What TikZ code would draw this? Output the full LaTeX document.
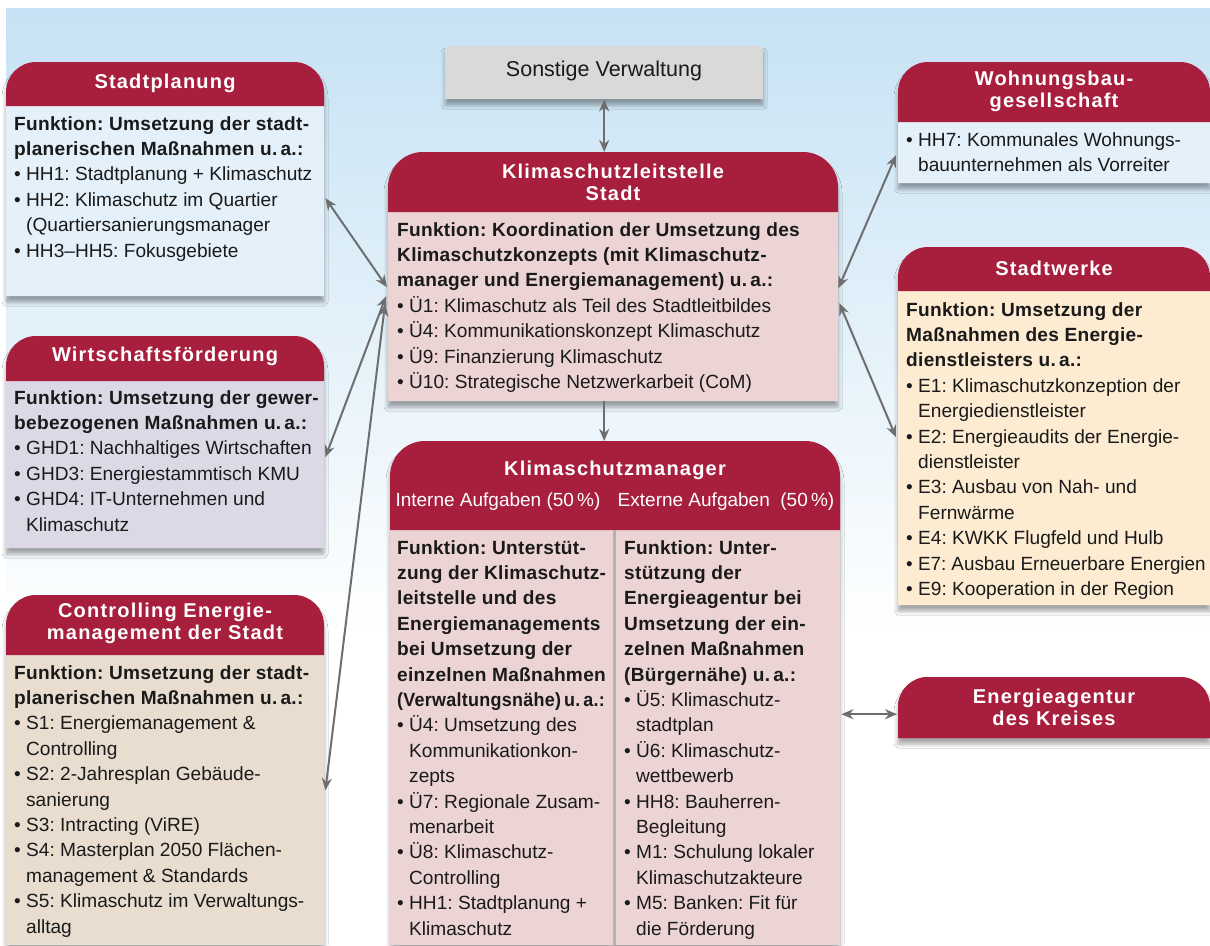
\documentclass[tikz,border=0pt]{standalone}
\usepackage{fontspec}
\usepackage{graphicx}
\setmainfont{Liberation Sans}[BoldFeatures={LetterSpace=1.5}]
\newfontfamily\hdfont{Liberation Sans}[LetterSpace=6]
\frenchspacing
\usetikzlibrary{arrows.meta,shadows.blur,calc}
\definecolor{hred}{HTML}{A81F3D}
\definecolor{ink}{HTML}{1A1A1A}
\definecolor{agray}{HTML}{6E6E6E}
\definecolor{bgblue}{HTML}{C6E2F4}
\definecolor{cblue}{HTML}{E4F1FA}
\definecolor{clila}{HTML}{DDD8E6}
\definecolor{cbeige}{HTML}{E9DDD0}
\definecolor{cpink}{HTML}{ECD4D5}
\definecolor{ccream}{HTML}{FDEBD2}
\definecolor{cgray}{HTML}{D9D9D9}
\newcommand\bi{\makebox[12pt][l]{\textbullet}}
\newcommand\ci{\hspace*{12pt}}
\tikzset{
  shd/.style={blur shadow={shadow xshift=0pt,shadow yshift=-6pt,shadow blur radius=4pt,shadow opacity=35}},
  hd/.style={font=\hdfont\bfseries\fontsize{20}{22}\selectfont, text=white, align=center, inner sep=0},
  txt/.style={font=\fontsize{19.1}{25.4}\selectfont, text=ink, align=left, inner sep=0, anchor=north west},
  conn/.style={draw=agray, line width=2pt, {Stealth[length=12pt,width=10pt]}-{Stealth[length=12pt,width=10pt]}},
  conn1/.style={draw=agray, line width=2pt, -{Stealth[length=12pt,width=10pt]}},
}
\newcommand\orgbox[8]{%
  \path[fill=#7, shd]
    (#2,#6) -- (#2,#3+#8) arc[start angle=180,end angle=270,radius=#8] -- (#5-#8,#3)
    arc[start angle=270,end angle=360,radius=#8] -- (#5,#6) -- cycle;
  \path[fill=hred]
    (#2,#4) -- (#2,#3+#8) arc[start angle=180,end angle=270,radius=#8] -- (#5-#8,#3)
    arc[start angle=270,end angle=360,radius=#8] -- (#5,#4) -- cycle;
  \node[inner sep=0, minimum width={#5pt-#2pt}, minimum height={#6pt-#3pt}, anchor=north west] (#1) at (#2,#3) {};
}
\begin{document}
\begin{tikzpicture}[x=1pt,y=-1pt]
\useasboundingbox (0,0) rectangle (1210,945);
\fill[white] (0,0) rectangle (1210,945);
\shade[top color=bgblue, bottom color=white] (6,8) rectangle (1210,640);

% Sonstige Verwaltung
\node[fill=cgray, minimum width=318pt, minimum height=53pt, inner sep=0, anchor=north west, shd] (sv) at (445,46) {};
\node[font=\fontsize{21.5}{24}\selectfont, text=ink] (svt) at (604,71) {Sonstige Verwaltung};

% Stadtplanung
\orgbox{sp}{6}{62}{106}{324}{296}{cblue}{30}
\node[hd] (sph) at (165,83) {Stadtplanung};
\node[txt] (spt) at (14,116) {\textbf{Funktion: Umsetzung der stadt-}\\
\textbf{planerischen Maßnahmen u.\,a.:}\\
\bi HH1: Stadtplanung + Klimaschutz\\
\bi HH2: Klimaschutz im Quartier\\
\ci(Quartiersanierungsmanager\\
\bi HH3–HH5: Fokusgebiete};

% Wirtschaftsfoerderung
\orgbox{wf}{6}{336}{381}{324}{548}{clila}{30}
\node[hd] (wfh) at (165,356) {Wirtschaftsförderung};
\node[txt] (wft) at (14,390) {\textbf{Funktion: Umsetzung der gewer-}\\
\textbf{bebezogenen Maßnahmen u.\,a.:}\\
\bi GHD1: Nachhaltiges Wirtschaften\\
\bi GHD3: Energiestammtisch KMU\\
\bi GHD4: IT-Unternehmen und\\
\ci Klimaschutz};

% Controlling
\orgbox{cm}{6}{595}{655}{324}{945}{cbeige}{30}
\node[hd] (cmh) at (165,623) {Controlling Energie-\\management der Stadt};
\node[txt] (cmt) at (14,665) {\textbf{Funktion: Umsetzung der stadt-}\\
\textbf{planerischen Maßnahmen u.\,a.:}\\
\bi S1: Energiemanagement \&\\
\ci Controlling\\
\bi S2: 2-Jahresplan Gebäude-\\
\ci sanierung\\
\bi S3: Intracting (ViRE)\\
\bi S4: Masterplan 2050 Flächen-\\
\ci management \& Standards\\
\bi S5: Klimaschutz im Verwaltungs-\\
\ci alltag};

% Leitstelle
\orgbox{ls}{388}{152}{212}{838}{401}{cpink}{35}
\node[hd] (lsh) at (613,182) {Klimaschutzleitstelle\\Stadt};
\node[txt] (lst) at (397,222) {\textbf{Funktion: Koordination der Umsetzung des}\\
\textbf{Klimaschutzkonzepts (mit Klimaschutz-}\\
\textbf{manager und Energiemanagement) u.\,a.:}\\
\bi Ü1: Klimaschutz als Teil des Stadtleitbildes\\
\bi Ü4: Kommunikationskonzept Klimaschutz\\
\bi Ü9: Finanzierung Klimaschutz\\
\bi Ü10: Strategische Netzwerkarbeit (CoM)};

% Klimaschutzmanager
\orgbox{km}{390}{441}{530}{840}{945}{cpink}{35}
\fill[black!30] (613,530) rectangle (616,945);
\node[hd] (kmh) at (615,470) {Klimaschutzmanager};
\node[font=\fontsize{19}{22}\selectfont, text=white] (kmi) at (498,502) {Interne Aufgaben (50\,\%)};
\node[font=\fontsize{19}{22}\selectfont, text=white] (kme) at (726,502) {Externe Aufgaben\ \ (50\,\%)};
\node[txt] (kmlt) at (397,540) {\textbf{Funktion: Unterstüt-}\\
\textbf{zung der Klimaschutz-}\\
\textbf{leitstelle und des}\\
\textbf{Energiemanagements}\\
\textbf{bei Umsetzung der}\\
\textbf{einzelnen Maßnahmen}\\
\scalebox{0.94}[1]{\textbf{(Verwaltungsnähe)\,u.\,a.:}}\\
\bi Ü4: Umsetzung des\\
\ci Kommunikationkon-\\
\ci zepts\\
\bi Ü7: Regionale Zusam-\\
\ci menarbeit\\
\bi Ü8: Klimaschutz-\\
\ci Controlling\\
\bi HH1: Stadtplanung +\\
\ci Klimaschutz};
\node[txt] (kmrt) at (624,540) {\textbf{Funktion: Unter-}\\
\textbf{stützung der}\\
\textbf{Energieagentur bei}\\
\textbf{Umsetzung der ein-}\\
\textbf{zelnen Maßnahmen}\\
\textbf{(Bürgernähe) u.\,a.:}\\
\bi Ü5: Klimaschutz-\\
\ci stadtplan\\
\bi Ü6: Klimaschutz-\\
\ci wettbewerb\\
\bi HH8: Bauherren-\\
\ci Begleitung\\
\bi M1: Schulung lokaler\\
\ci Klimaschutzakteure\\
\bi M5: Banken: Fit für\\
\ci die Förderung};

% Wohnungsbaugesellschaft
\orgbox{wb}{898}{62}{122}{1210}{183}{cblue}{30}
\node[hd] (wbh) at (1054,91) {Wohnungsbau-\\gesellschaft};
\node[txt] (wbt) at (906,132) {\bi HH7: Kommunales Wohnungs-\\
\ci bauunternehmen als Vorreiter};

% Stadtwerke
\orgbox{sw}{898}{247}{291}{1210}{605}{ccream}{30}
\node[hd] (swh) at (1054,268) {Stadtwerke};
\node[txt] (swt) at (906,302) {\textbf{Funktion: Umsetzung der}\\
\textbf{Maßnahmen des Energie-}\\
\textbf{dienstleisters u.\,a.:}\\
\bi E1: Klimaschutzkonzeption der\\
\ci Energiedienstleister\\
\bi E2: Energieaudits der Energie-\\
\ci dienstleister\\
\bi E3: Ausbau von Nah- und\\
\ci Fernwärme\\
\bi E4: KWKK Flugfeld und Hulb\\
\scalebox{0.985}[1]{\bi E7: Ausbau Erneuerbare Energien}\\
\bi E9: Kooperation in der Region};

% Energieagentur
\orgbox{ea}{898}{677}{738}{1210}{738}{hred}{30}
\node[hd] (eah) at (1054,707) {Energieagentur\\des Kreises};

% connectors
\draw[conn] (sv.south) -- (sv.south |- ls.north);
\draw[conn1] (sv.south |- ls.south) -- (sv.south |- km.north);
\draw[conn] ($(sp.east)+(1,19)$) -- ($(ls.west)+(-1,10.5)$);
\draw[conn] ($(wf.east)+(1,15)$) -- ($(ls.west)+(-2,19.5)$);
\draw[conn] ($(cm.east)+(1,20)$) -- ($(ls.west)+(-3,27.5)$);
\draw[conn] ($(ls.east)+(0,11.5)$) -- ($(wb.west)+(-2,32.5)$);
\draw[conn] ($(ls.east)+(1,26.5)$) -- ($(sw.west)+(-2,11)$);
\draw[conn] ($(km.east)+(1,21)$) -- ($(ea.west)+(-1,6.5)$);
\end{tikzpicture}
\end{document}
